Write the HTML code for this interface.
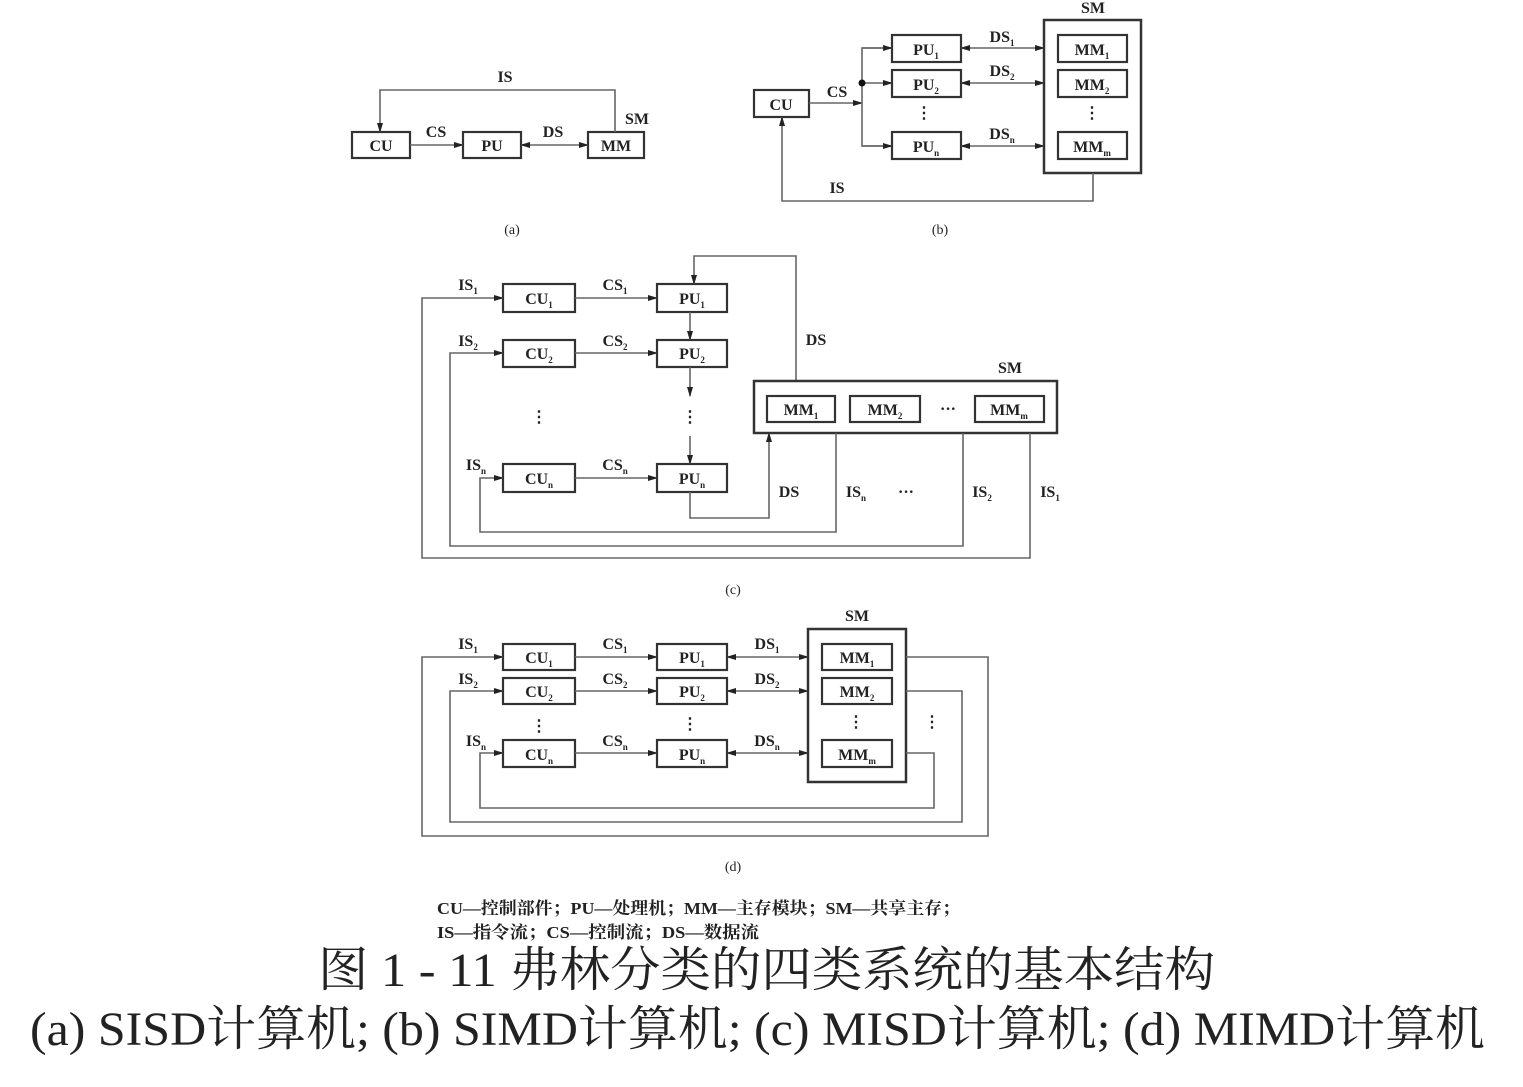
<!DOCTYPE html>
<html><head><meta charset="utf-8"><style>
body{margin:0;background:#fff;width:1523px;height:1087px;overflow:hidden}
svg{display:block}
text{font-family:"Liberation Serif","Noto Serif CJK SC",serif;fill:#222}
.l{font-size:16px;font-weight:bold}
.b{fill:none;stroke:#333;stroke-width:2.2}
.w{fill:none;stroke:#666;stroke-width:1.6}
</style></head><body>
<svg width="1523" height="1087" viewBox="0 0 1523 1087">
<defs>
<marker id="a" markerWidth="10" markerHeight="8" refX="9" refY="4" orient="auto" markerUnits="userSpaceOnUse"><path d="M0,1 L10,4 L0,7 Z" fill="#222"/></marker>
<marker id="s" markerWidth="10" markerHeight="8" refX="1" refY="4" orient="auto" markerUnits="userSpaceOnUse"><path d="M10,1 L0,4 L10,7 Z" fill="#222"/></marker>
</defs>

<!-- (a) -->
<rect class="b" x="352" y="132" width="58" height="26"/><text class="l" x="381" y="151" text-anchor="middle">CU</text>
<rect class="b" x="463" y="132" width="58" height="26"/><text class="l" x="492" y="151" text-anchor="middle">PU</text>
<rect class="b" x="588" y="132" width="56" height="26"/><text class="l" x="616" y="151" text-anchor="middle">MM</text>
<line class="w" x1="410" y1="145" x2="463" y2="145" marker-end="url(#a)"/>
<line class="w" x1="521" y1="145" x2="588" y2="145" marker-start="url(#s)" marker-end="url(#a)"/>
<polyline class="w" points="615,132 615,90 380,90 380,132" marker-end="url(#a)"/>
<text class="l" x="436" y="137" text-anchor="middle">CS</text>
<text class="l" x="553" y="137" text-anchor="middle">DS</text>
<text class="l" x="637" y="124" text-anchor="middle">SM</text>
<text class="l" x="505" y="82" text-anchor="middle">IS</text>
<text x="512" y="234" font-size="14" text-anchor="middle">(a)</text>

<!-- (b) -->
<rect class="b" x="754" y="90" width="55" height="27"/><text class="l" x="781" y="110" text-anchor="middle">CU</text>
<line class="w" x1="809" y1="103" x2="862" y2="103" marker-end="url(#a)"/>
<polyline class="w" points="892,48 862,48 862,146 892,146"/>
<line x1="862" y1="48" x2="892" y2="48" class="w" marker-end="url(#a)"/>
<line x1="862" y1="83" x2="892" y2="83" class="w" marker-end="url(#a)"/>
<line x1="862" y1="146" x2="892" y2="146" class="w" marker-end="url(#a)"/>
<circle cx="862" cy="83" r="3.5" fill="#111"/>
<text class="l" x="837" y="97" text-anchor="middle">CS</text>
<rect class="b" x="892" y="35" width="69" height="27"/><text class="l" x="926" y="55" text-anchor="middle">PU<tspan font-size="9" dy="4">1</tspan></text>
<rect class="b" x="892" y="70" width="69" height="27"/><text class="l" x="926" y="90" text-anchor="middle">PU<tspan font-size="9" dy="4">2</tspan></text>
<rect class="b" x="892" y="132" width="69" height="27"/><text class="l" x="926" y="152" text-anchor="middle">PU<tspan font-size="9" dy="4">n</tspan></text>
<text class="l" x="924" y="118" text-anchor="middle">⋮</text>
<line class="w" x1="961" y1="48" x2="1044" y2="48" marker-start="url(#s)" marker-end="url(#a)"/>
<line class="w" x1="961" y1="83" x2="1044" y2="83" marker-start="url(#s)" marker-end="url(#a)"/>
<line class="w" x1="961" y1="146" x2="1044" y2="146" marker-start="url(#s)" marker-end="url(#a)"/>
<text class="l" x="1002" y="42" text-anchor="middle">DS<tspan font-size="9" dy="4">1</tspan></text>
<text class="l" x="1002" y="76" text-anchor="middle">DS<tspan font-size="9" dy="4">2</tspan></text>
<text class="l" x="1002" y="139" text-anchor="middle">DS<tspan font-size="9" dy="4">n</tspan></text>
<rect x="1044" y="20" width="97" height="153" fill="none" stroke="#333" stroke-width="2.5"/>
<rect class="b" x="1058" y="35" width="69" height="27"/><text class="l" x="1092" y="55" text-anchor="middle">MM<tspan font-size="9" dy="4">1</tspan></text>
<rect class="b" x="1058" y="70" width="69" height="27"/><text class="l" x="1092" y="90" text-anchor="middle">MM<tspan font-size="9" dy="4">2</tspan></text>
<rect class="b" x="1058" y="132" width="69" height="27"/><text class="l" x="1092" y="152" text-anchor="middle">MM<tspan font-size="9" dy="4">m</tspan></text>
<text class="l" x="1092" y="118" text-anchor="middle">⋮</text>
<text class="l" x="1093" y="13" text-anchor="middle">SM</text>
<polyline class="w" points="1093,173 1093,201 782,201 782,117" marker-end="url(#a)"/>
<text class="l" x="837" y="193" text-anchor="middle">IS</text>
<text x="940" y="234" font-size="14" text-anchor="middle">(b)</text>

<!-- (c) -->
<rect class="b" x="503" y="284" width="72" height="28"/><text class="l" x="539" y="304" text-anchor="middle">CU<tspan font-size="9" dy="4">1</tspan></text>
<rect class="b" x="503" y="340" width="72" height="27"/><text class="l" x="539" y="359" text-anchor="middle">CU<tspan font-size="9" dy="4">2</tspan></text>
<rect class="b" x="503" y="464" width="72" height="28"/><text class="l" x="539" y="484" text-anchor="middle">CU<tspan font-size="9" dy="4">n</tspan></text>
<rect class="b" x="657" y="284" width="70" height="28"/><text class="l" x="692" y="304" text-anchor="middle">PU<tspan font-size="9" dy="4">1</tspan></text>
<rect class="b" x="657" y="340" width="70" height="27"/><text class="l" x="692" y="359" text-anchor="middle">PU<tspan font-size="9" dy="4">2</tspan></text>
<rect class="b" x="657" y="464" width="70" height="28"/><text class="l" x="692" y="484" text-anchor="middle">PU<tspan font-size="9" dy="4">n</tspan></text>
<text class="l" x="539" y="422" text-anchor="middle">⋮</text>
<text class="l" x="690" y="422" text-anchor="middle">⋮</text>
<line class="w" x1="575" y1="298" x2="657" y2="298" marker-end="url(#a)"/>
<line class="w" x1="575" y1="353" x2="657" y2="353" marker-end="url(#a)"/>
<line class="w" x1="575" y1="478" x2="657" y2="478" marker-end="url(#a)"/>
<text class="l" x="615" y="290" text-anchor="middle">CS<tspan font-size="9" dy="4">1</tspan></text>
<text class="l" x="615" y="346" text-anchor="middle">CS<tspan font-size="9" dy="4">2</tspan></text>
<text class="l" x="615" y="470" text-anchor="middle">CS<tspan font-size="9" dy="4">n</tspan></text>
<line class="w" x1="690" y1="312" x2="690" y2="340" marker-end="url(#a)"/>
<line class="w" x1="690" y1="367" x2="690" y2="396" marker-end="url(#a)"/>
<line class="w" x1="690" y1="436" x2="690" y2="464" marker-end="url(#a)"/>
<polyline class="w" points="796,381 796,256 694,256 694,284" marker-end="url(#a)"/>
<text class="l" x="816" y="345" text-anchor="middle">DS</text>
<polyline class="w" points="690,492 690,518 769,518 769,433" marker-end="url(#a)"/>
<text class="l" x="789" y="497" text-anchor="middle">DS</text>
<rect x="754" y="381" width="303" height="52" fill="none" stroke="#333" stroke-width="2.5"/>
<rect class="b" x="767" y="396" width="68" height="26"/><text class="l" x="801" y="415" text-anchor="middle">MM<tspan font-size="9" dy="4">1</tspan></text>
<rect class="b" x="850" y="396" width="70" height="26"/><text class="l" x="885" y="415" text-anchor="middle">MM<tspan font-size="9" dy="4">2</tspan></text>
<text class="l" x="948" y="414" text-anchor="middle">···</text>
<rect class="b" x="975" y="396" width="69" height="26"/><text class="l" x="1009" y="415" text-anchor="middle">MM<tspan font-size="9" dy="4">m</tspan></text>
<text class="l" x="1010" y="373" text-anchor="middle">SM</text>
<polyline class="w" points="1030,433 1030,558 422,558 422,298 503,298" marker-end="url(#a)"/>
<polyline class="w" points="963,433 963,546 450,546 450,353 503,353" marker-end="url(#a)"/>
<polyline class="w" points="836,433 836,532 480,532 480,478 503,478" marker-end="url(#a)"/>
<text class="l" x="468" y="290" text-anchor="middle">IS<tspan font-size="9" dy="4">1</tspan></text>
<text class="l" x="468" y="346" text-anchor="middle">IS<tspan font-size="9" dy="4">2</tspan></text>
<text class="l" x="476" y="470" text-anchor="middle">IS<tspan font-size="9" dy="4">n</tspan></text>
<text class="l" x="856" y="497" text-anchor="middle">IS<tspan font-size="9" dy="4">n</tspan></text>
<text class="l" x="906" y="497" text-anchor="middle">···</text>
<text class="l" x="982" y="497" text-anchor="middle">IS<tspan font-size="9" dy="4">2</tspan></text>
<text class="l" x="1050" y="497" text-anchor="middle">IS<tspan font-size="9" dy="4">1</tspan></text>
<text x="733" y="594" font-size="14" text-anchor="middle">(c)</text>

<!-- (d) -->
<rect class="b" x="503" y="644" width="72" height="26"/><text class="l" x="539" y="663" text-anchor="middle">CU<tspan font-size="9" dy="4">1</tspan></text>
<rect class="b" x="503" y="678" width="72" height="26"/><text class="l" x="539" y="697" text-anchor="middle">CU<tspan font-size="9" dy="4">2</tspan></text>
<rect class="b" x="503" y="740" width="72" height="27"/><text class="l" x="539" y="760" text-anchor="middle">CU<tspan font-size="9" dy="4">n</tspan></text>
<rect class="b" x="657" y="644" width="70" height="26"/><text class="l" x="692" y="663" text-anchor="middle">PU<tspan font-size="9" dy="4">1</tspan></text>
<rect class="b" x="657" y="678" width="70" height="26"/><text class="l" x="692" y="697" text-anchor="middle">PU<tspan font-size="9" dy="4">2</tspan></text>
<rect class="b" x="657" y="740" width="70" height="27"/><text class="l" x="692" y="760" text-anchor="middle">PU<tspan font-size="9" dy="4">n</tspan></text>
<text class="l" x="539" y="731" text-anchor="middle">⋮</text>
<text class="l" x="690" y="729" text-anchor="middle">⋮</text>
<line class="w" x1="575" y1="657" x2="657" y2="657" marker-end="url(#a)"/>
<line class="w" x1="575" y1="691" x2="657" y2="691" marker-end="url(#a)"/>
<line class="w" x1="575" y1="753" x2="657" y2="753" marker-end="url(#a)"/>
<text class="l" x="615" y="649" text-anchor="middle">CS<tspan font-size="9" dy="4">1</tspan></text>
<text class="l" x="615" y="684" text-anchor="middle">CS<tspan font-size="9" dy="4">2</tspan></text>
<text class="l" x="615" y="746" text-anchor="middle">CS<tspan font-size="9" dy="4">n</tspan></text>
<line class="w" x1="727" y1="657" x2="808" y2="657" marker-start="url(#s)" marker-end="url(#a)"/>
<line class="w" x1="727" y1="691" x2="808" y2="691" marker-start="url(#s)" marker-end="url(#a)"/>
<line class="w" x1="727" y1="753" x2="808" y2="753" marker-start="url(#s)" marker-end="url(#a)"/>
<text class="l" x="767" y="649" text-anchor="middle">DS<tspan font-size="9" dy="4">1</tspan></text>
<text class="l" x="767" y="684" text-anchor="middle">DS<tspan font-size="9" dy="4">2</tspan></text>
<text class="l" x="767" y="746" text-anchor="middle">DS<tspan font-size="9" dy="4">n</tspan></text>
<rect x="808" y="629" width="98" height="153" fill="none" stroke="#333" stroke-width="2.5"/>
<rect class="b" x="822" y="644" width="70" height="26"/><text class="l" x="857" y="663" text-anchor="middle">MM<tspan font-size="9" dy="4">1</tspan></text>
<rect class="b" x="822" y="678" width="70" height="26"/><text class="l" x="857" y="697" text-anchor="middle">MM<tspan font-size="9" dy="4">2</tspan></text>
<rect class="b" x="822" y="740" width="70" height="27"/><text class="l" x="857" y="760" text-anchor="middle">MM<tspan font-size="9" dy="4">m</tspan></text>
<text class="l" x="856" y="727" text-anchor="middle">⋮</text>
<text class="l" x="932" y="727" text-anchor="middle">⋮</text>
<text class="l" x="857" y="621" text-anchor="middle">SM</text>
<polyline class="w" points="906,657 988,657 988,836 422,836 422,657 503,657" marker-end="url(#a)"/>
<polyline class="w" points="906,691 962,691 962,822 450,822 450,691 503,691" marker-end="url(#a)"/>
<polyline class="w" points="906,753 934,753 934,808 480,808 480,753 503,753" marker-end="url(#a)"/>
<text class="l" x="468" y="649" text-anchor="middle">IS<tspan font-size="9" dy="4">1</tspan></text>
<text class="l" x="468" y="684" text-anchor="middle">IS<tspan font-size="9" dy="4">2</tspan></text>
<text class="l" x="476" y="746" text-anchor="middle">IS<tspan font-size="9" dy="4">n</tspan></text>
<text x="733" y="871" font-size="14" text-anchor="middle">(d)</text>

<!-- legend -->
<text x="437" y="914" font-size="17" font-weight="bold" textLength="523" lengthAdjust="spacingAndGlyphs">CU—控制部件；PU—处理机；MM—主存模块；SM—共享主存；</text>
<text x="437" y="938" font-size="17" font-weight="bold" textLength="322" lengthAdjust="spacingAndGlyphs">IS—指令流；CS—控制流；DS—数据流</text>
<text x="318" y="986" font-size="48" textLength="897" lengthAdjust="spacingAndGlyphs">图 1 - 11  弗林分类的四类系统的基本结构</text>
<text x="30" y="1045" font-size="48" textLength="1455" lengthAdjust="spacingAndGlyphs">(a) SISD计算机; (b) SIMD计算机; (c) MISD计算机; (d) MIMD计算机</text>
</svg>
</body></html>
